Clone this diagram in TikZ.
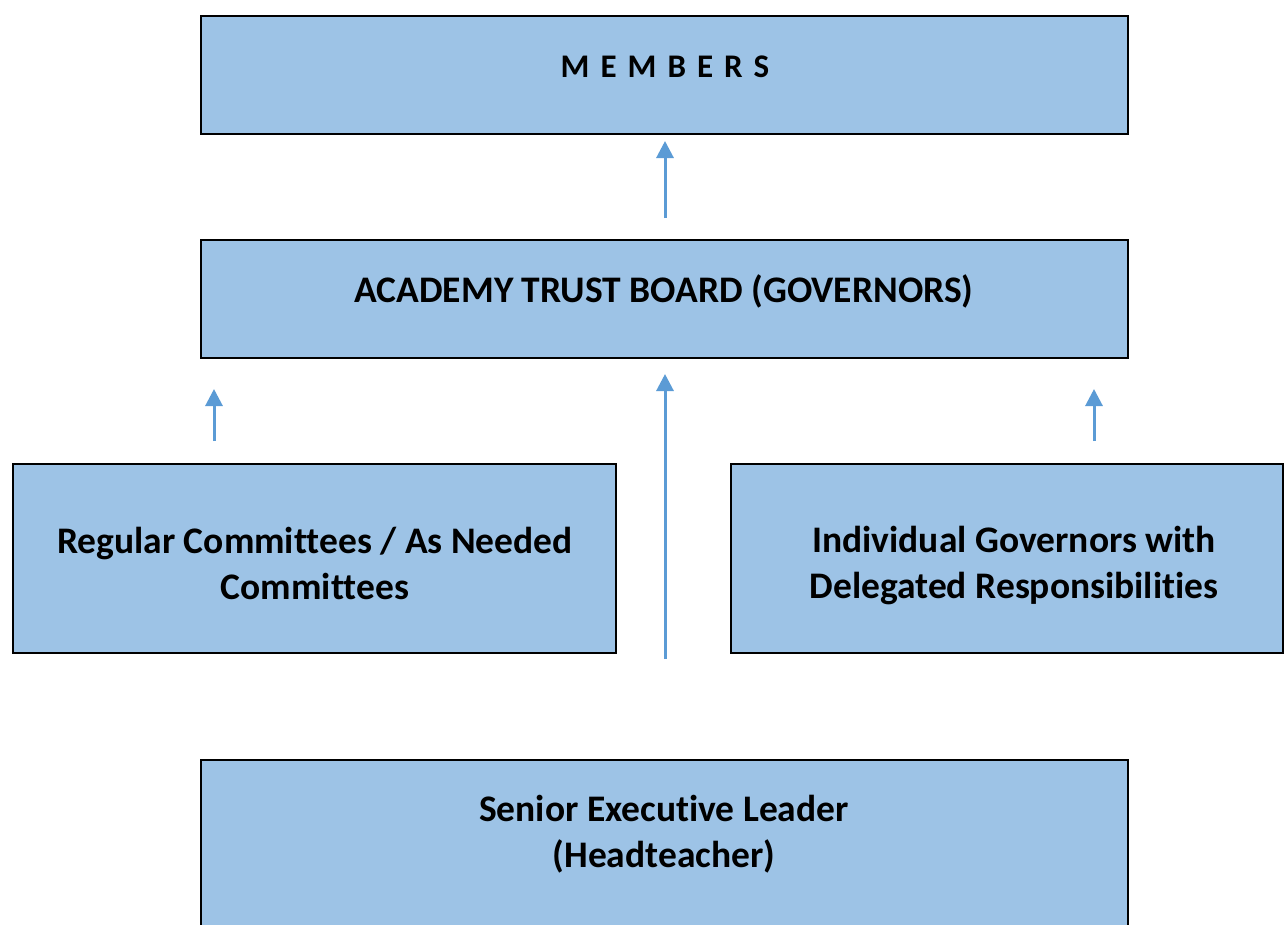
\documentclass[tikz,border=0pt]{standalone}
\usepackage{fontspec}
\setmainfont{Carlito}[Ligatures={NoCommon}]
\usetikzlibrary{arrows.meta}
\definecolor{boxfill}{HTML}{9DC3E6}
\definecolor{arrowblue}{HTML}{5B9BD5}
\tikzset{
  orgbox/.style={draw=black, line width=2.2pt, fill=boxfill, rectangle, inner sep=0pt},
  lbl/.style={font=\bfseries\fontsize{37.5}{46}\selectfont, align=center, text=black, inner sep=0pt},
  uparrow/.style={draw=arrowblue, line width=3pt, -{Triangle[width=17pt,length=17pt]}}
}
\begin{document}
\begin{tikzpicture}[x=1pt,y=-1pt]
\useasboundingbox (0,0) rectangle (1285,924);
\begin{scope}
\clip (0,0) rectangle (1285,924);
\node[orgbox, minimum width=927pt, minimum height=118pt] (members) at (664.5,75) {};
\node[orgbox, minimum width=927pt, minimum height=118pt] (board) at (664.5,299) {};
\node[orgbox, minimum width=603pt, minimum height=189pt] (committees) at (314.5,558.5) {};
\node[orgbox, minimum width=552pt, minimum height=189pt] (individual) at (1007,558.5) {};
\node[orgbox, minimum width=927pt, minimum height=200pt] (senior) at (664.5,860) {};
\end{scope}
\node[lbl, font=\bfseries\fontsize{33}{38}\selectfont] (tmembers) at (665,67) {M\,\,E\,\,M\,\,B\,\,E\,\,R\,\,S};
\node[lbl] (tboard) at (664,291) {ACADEMY TRUST BOARD (GOVERNORS)};
\node[lbl] (tcomm) at (315,563) {Regular Committees / As Needed\\Committees};
\node[lbl] (tind) at (1014,566) {Individual Governors with\\Delegated Responsibilities};
\node[lbl] (tsenior) at (664,834) {Senior Executive Leader\\(Headteacher)};
\coordinate (a1s) at (665,218);
\coordinate (a1e) at (665,141);
\coordinate (a2s) at (214,441);
\coordinate (a2e) at (214,389);
\coordinate (a3s) at (665,659);
\coordinate (a3e) at (665,374);
\coordinate (a4s) at (1094,441);
\coordinate (a4e) at (1094,389);
\draw[uparrow] (a1s) -- (a1e);
\draw[uparrow] (a2s) -- (a2e);
\draw[uparrow] (a3s) -- (a3e);
\draw[uparrow] (a4s) -- (a4e);
\end{tikzpicture}
\end{document}
